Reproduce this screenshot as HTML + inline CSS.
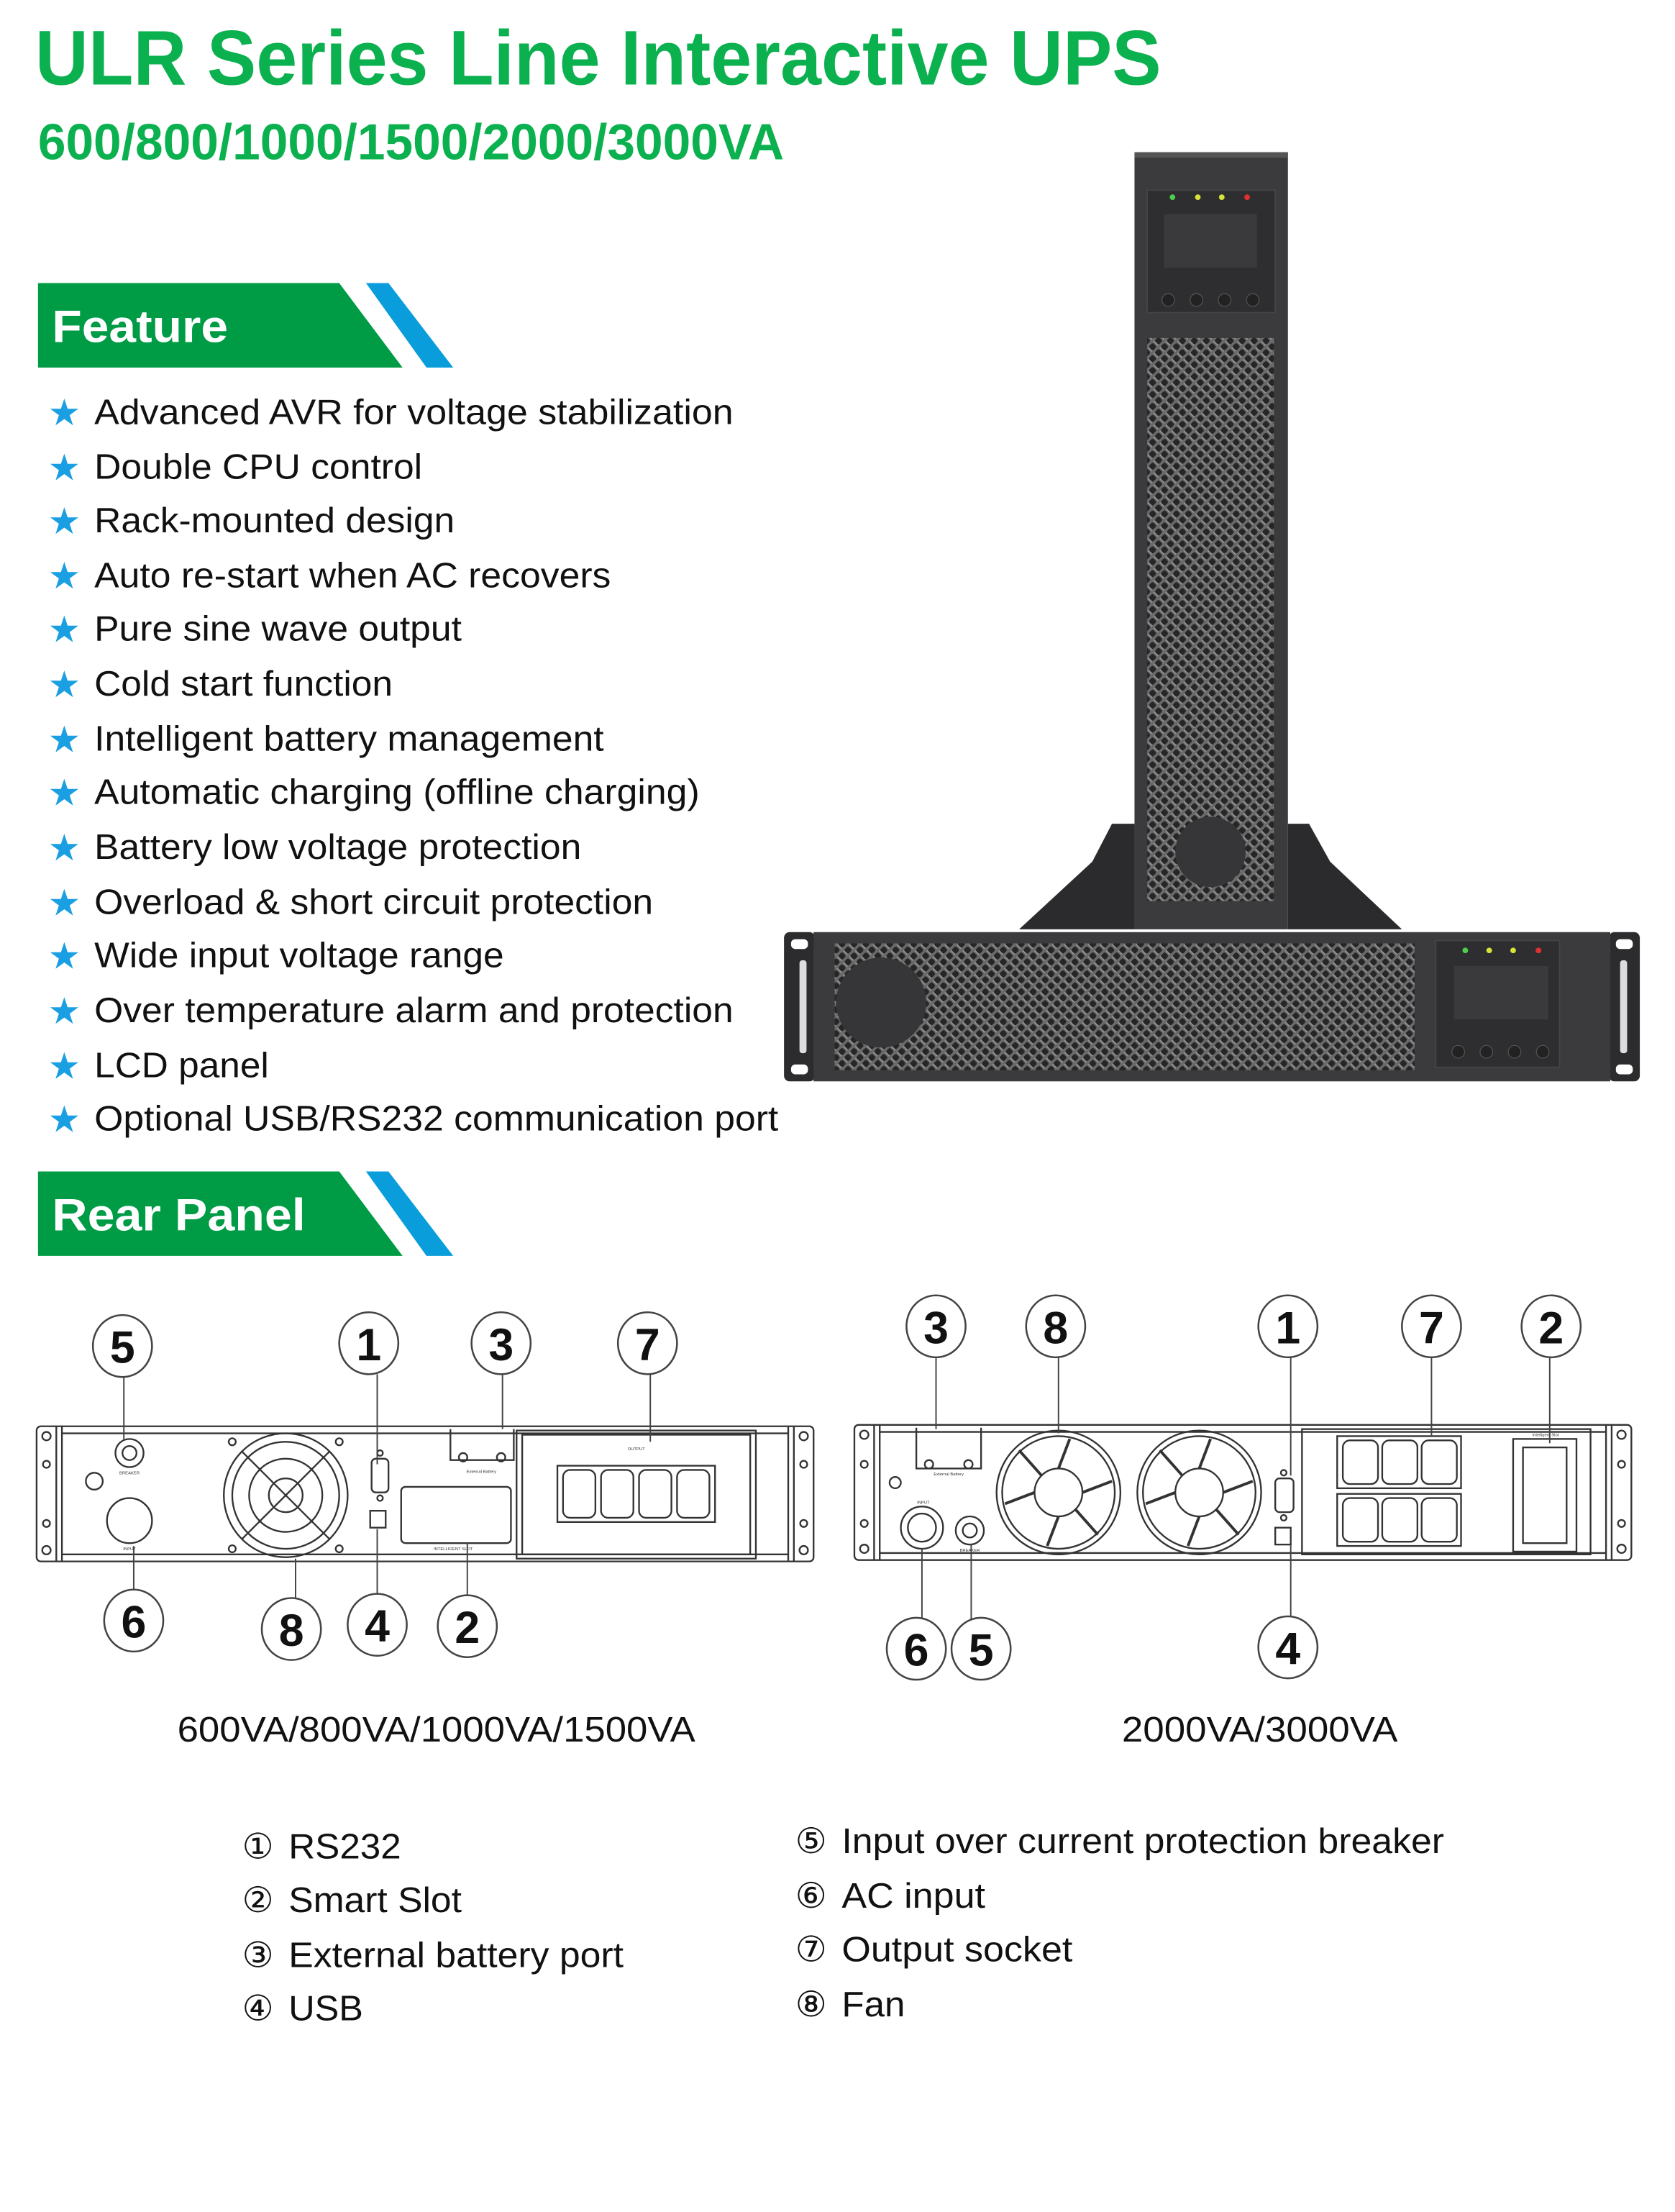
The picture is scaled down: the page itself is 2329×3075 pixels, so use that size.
<!DOCTYPE html>
<html><head><meta charset="utf-8"><style>
html,body{margin:0;padding:0;background:#fff;}
svg{display:block;}
</style></head><body>
<svg xmlns="http://www.w3.org/2000/svg" width="2329" height="3075" viewBox="0 0 1190 1571" font-family="Liberation Sans, sans-serif">
<defs>
<pattern id="grille" width="6" height="6" patternUnits="userSpaceOnUse" patternTransform="rotate(45)">
<rect width="6" height="6" fill="#6a6a6a"/>
<rect x="1" y="1" width="4.2" height="4.2" rx="1.2" fill="#262627"/>
<rect x="1" y="5.2" width="4.2" height="0.8" fill="#9a9a9a"/>
</pattern>
</defs>
<rect width="1190" height="1571" fill="#fff"/>

<!-- Title -->
<text x="25" y="60" font-size="55" font-weight="bold" fill="#0bb04f" textLength="800" lengthAdjust="spacingAndGlyphs">ULR Series Line Interactive UPS</text>
<text x="27" y="113" font-size="36" font-weight="bold" fill="#0bb04f" textLength="530" lengthAdjust="spacingAndGlyphs">600/800/1000/1500/2000/3000VA</text>

<!-- Feature banner -->
<polygon points="27,201 241,201 286,261 27,261" fill="#009b45"/>
<polygon points="260,201 276,201 322,261 303,261" fill="#0a9ddc"/>
<text x="37" y="243" font-size="32" font-weight="bold" fill="#fff" textLength="125" lengthAdjust="spacingAndGlyphs">Feature</text>

<!-- Feature list -->
<g font-size="25" fill="#111">
<g fill="#1b9fe3" font-size="26">
<text x="34" y="302">★</text><text x="34" y="341">★</text><text x="34" y="379">★</text><text x="34" y="418">★</text><text x="34" y="456">★</text><text x="34" y="495">★</text><text x="34" y="534">★</text><text x="34" y="572">★</text><text x="34" y="611">★</text><text x="34" y="650">★</text><text x="34" y="688">★</text><text x="34" y="727">★</text><text x="34" y="766">★</text><text x="34" y="804">★</text>
</g>
<text x="67" y="301" textLength="454" lengthAdjust="spacingAndGlyphs">Advanced AVR for voltage stabilization</text>
<text x="67" y="340" textLength="233" lengthAdjust="spacingAndGlyphs">Double CPU control</text>
<text x="67" y="378" textLength="256" lengthAdjust="spacingAndGlyphs">Rack-mounted design</text>
<text x="67" y="417" textLength="367" lengthAdjust="spacingAndGlyphs">Auto re-start when AC recovers</text>
<text x="67" y="455" textLength="261" lengthAdjust="spacingAndGlyphs">Pure sine wave output</text>
<text x="67" y="494" textLength="212" lengthAdjust="spacingAndGlyphs">Cold start function</text>
<text x="67" y="533" textLength="362" lengthAdjust="spacingAndGlyphs">Intelligent battery management</text>
<text x="67" y="571" textLength="430" lengthAdjust="spacingAndGlyphs">Automatic charging (offline charging)</text>
<text x="67" y="610" textLength="346" lengthAdjust="spacingAndGlyphs">Battery low voltage protection</text>
<text x="67" y="649" textLength="397" lengthAdjust="spacingAndGlyphs">Overload &amp; short circuit protection</text>
<text x="67" y="687" textLength="291" lengthAdjust="spacingAndGlyphs">Wide input voltage range</text>
<text x="67" y="726" textLength="454" lengthAdjust="spacingAndGlyphs">Over temperature alarm and protection</text>
<text x="67" y="765" textLength="124" lengthAdjust="spacingAndGlyphs">LCD panel</text>
<text x="67" y="803" textLength="486" lengthAdjust="spacingAndGlyphs">Optional USB/RS232 communication port</text>
</g>

<!-- Rear panel banner -->
<polygon points="27,832 241,832 286,892 27,892" fill="#009b45"/>
<polygon points="260,832 276,832 322,892 303,892" fill="#0a9ddc"/>
<text x="37" y="874" font-size="32" font-weight="bold" fill="#fff" textLength="180" lengthAdjust="spacingAndGlyphs">Rear Panel</text>

<!-- UPS tower -->
<polygon points="724,660 776,612 790,585 806,585 806,660" fill="#2b2b2d"/>
<polygon points="915,585 930,585 945,612 996,660 915,660" fill="#2b2b2d"/>
<rect x="806" y="108" width="109" height="552" fill="#3b3b3d"/>
<rect x="806" y="108" width="109" height="4" fill="#555"/>
<rect x="815" y="135" width="91" height="87" fill="#2e2e30" stroke="#444" stroke-width="1"/>
<rect x="827" y="152" width="66" height="38" fill="#3a3a3c"/>
<circle cx="833" cy="140" r="2" fill="#4cd04c"/><circle cx="851" cy="140" r="2" fill="#d7e33a"/><circle cx="868" cy="140" r="2" fill="#d7e33a"/><circle cx="886" cy="140" r="2" fill="#e03030"/>
<g fill="#222" stroke="#555" stroke-width="0.6"><circle cx="830" cy="213" r="4.5"/><circle cx="850" cy="213" r="4.5"/><circle cx="870" cy="213" r="4.5"/><circle cx="890" cy="213" r="4.5"/></g>
<rect x="815" y="240" width="90" height="400" fill="url(#grille)"/>
<circle cx="860" cy="605" r="25" fill="#363638"/>

<!-- UPS horizontal -->
<rect x="557" y="662" width="22" height="106" rx="4" fill="#2c2c2e"/>
<rect x="1143" y="662" width="22" height="106" rx="4" fill="#2c2c2e"/>
<rect x="562" y="667" width="12" height="7" rx="3" fill="#fff"/><rect x="562" y="756" width="12" height="7" rx="3" fill="#fff"/>
<rect x="1148" y="667" width="12" height="7" rx="3" fill="#fff"/><rect x="1148" y="756" width="12" height="7" rx="3" fill="#fff"/>
<rect x="568" y="682" width="5" height="66" rx="2" fill="#ddd"/>
<rect x="1151" y="682" width="5" height="66" rx="2" fill="#ddd"/>
<rect x="578" y="662" width="566" height="106" fill="#3b3b3d"/>
<rect x="593" y="670" width="412" height="90" fill="url(#grille)"/>
<circle cx="626" cy="712" r="32" fill="#363638"/>
<rect x="1020" y="668" width="88" height="90" fill="#2e2e30" stroke="#444" stroke-width="1"/>
<rect x="1033" y="686" width="67" height="38" fill="#3a3a3c"/>
<circle cx="1041" cy="675" r="2" fill="#4cd04c"/><circle cx="1058" cy="675" r="2" fill="#d7e33a"/><circle cx="1075" cy="675" r="2" fill="#d7e33a"/><circle cx="1093" cy="675" r="2" fill="#e03030"/>
<g fill="#222" stroke="#555" stroke-width="0.6"><circle cx="1036" cy="747" r="4.5"/><circle cx="1056" cy="747" r="4.5"/><circle cx="1076" cy="747" r="4.5"/><circle cx="1096" cy="747" r="4.5"/></g>

<!-- LEFT REAR PANEL -->
<g fill="none" stroke="#333" stroke-width="1.2">
<rect x="26" y="1013" width="552" height="96" rx="3"/>
<line x1="40" y1="1013" x2="40" y2="1109"/><line x1="564" y1="1013" x2="564" y2="1109"/>
<line x1="44" y1="1013" x2="44" y2="1109"/><line x1="560" y1="1013" x2="560" y2="1109"/>
<line x1="44" y1="1018" x2="560" y2="1018"/><line x1="44" y1="1104" x2="560" y2="1104"/>
<circle cx="33" cy="1020" r="3"/><circle cx="33" cy="1101" r="3"/><circle cx="571" cy="1020" r="3"/><circle cx="571" cy="1101" r="3"/>
<circle cx="33" cy="1040" r="2.5"/><circle cx="33" cy="1082" r="2.5"/><circle cx="571" cy="1040" r="2.5"/><circle cx="571" cy="1082" r="2.5"/>
<!-- fan -->
<circle cx="203" cy="1062" r="44"/><circle cx="203" cy="1062" r="38"/><circle cx="203" cy="1062" r="26"/><circle cx="203" cy="1062" r="12"/>
<line x1="172" y1="1031" x2="234" y2="1093"/><line x1="234" y1="1031" x2="172" y2="1093"/>
<circle cx="165" cy="1024" r="2.5"/><circle cx="241" cy="1024" r="2.5"/><circle cx="165" cy="1100" r="2.5"/><circle cx="241" cy="1100" r="2.5"/>
<!-- breaker & input -->
<circle cx="92" cy="1032" r="10"/><circle cx="92" cy="1032" r="5"/>
<circle cx="67" cy="1052" r="6"/>
<circle cx="92" cy="1080" r="16"/>
<!-- db9 usb -->
<rect x="264" y="1036" width="12" height="24" rx="3"/><circle cx="270" cy="1032" r="2"/><circle cx="270" cy="1064" r="2"/>
<rect x="263" y="1073" width="11" height="12"/>
<!-- ext battery -->
<path d="M320,1015 V1037 H365 V1015"/>
<circle cx="329" cy="1035" r="3"/><circle cx="356" cy="1035" r="3"/>
<!-- smart slot -->
<rect x="285" y="1056" width="78" height="40" rx="3"/>
<!-- output -->
<rect x="367" y="1016" width="170" height="91"/>
<rect x="371" y="1019" width="162" height="85"/>
<rect x="396" y="1041" width="112" height="40"/>
<rect x="400" y="1044" width="23" height="34" rx="5"/><rect x="427" y="1044" width="23" height="34" rx="5"/><rect x="454" y="1044" width="23" height="34" rx="5"/><rect x="481" y="1044" width="23" height="34" rx="5"/>
</g>
<g font-size="3" fill="#333" text-anchor="middle"><text x="92" y="1047">BREAKER</text><text x="92" y="1101">INPUT</text><text x="342" y="1046">External Battery</text><text x="322" y="1101">INTELLIGENT SLOT</text><text x="452" y="1030">OUTPUT</text></g>

<!-- RIGHT REAR PANEL -->
<g fill="none" stroke="#333" stroke-width="1.2">
<rect x="607" y="1012" width="552" height="96" rx="3"/>
<line x1="621" y1="1012" x2="621" y2="1108"/><line x1="1145" y1="1012" x2="1145" y2="1108"/>
<line x1="625" y1="1012" x2="625" y2="1108"/><line x1="1141" y1="1012" x2="1141" y2="1108"/>
<line x1="625" y1="1017" x2="1141" y2="1017"/><line x1="625" y1="1103" x2="1141" y2="1103"/>
<circle cx="614" cy="1019" r="3"/><circle cx="614" cy="1100" r="3"/><circle cx="1152" cy="1019" r="3"/><circle cx="1152" cy="1100" r="3"/>
<circle cx="614" cy="1040" r="2.5"/><circle cx="614" cy="1082" r="2.5"/><circle cx="1152" cy="1040" r="2.5"/><circle cx="1152" cy="1082" r="2.5"/>
<!-- fans -->
<circle cx="752" cy="1060" r="44"/><circle cx="752" cy="1060" r="40"/><circle cx="752" cy="1060" r="17"/>
<circle cx="852" cy="1060" r="44"/><circle cx="852" cy="1060" r="40"/><circle cx="852" cy="1060" r="17"/>
<g stroke-width="2">
<line x1="752" y1="1043" x2="760" y2="1022"/><line x1="769" y1="1060" x2="790" y2="1052"/><line x1="752" y1="1077" x2="744" y2="1098"/><line x1="735" y1="1060" x2="714" y2="1068"/><line x1="764" y1="1072" x2="780" y2="1090"/><line x1="740" y1="1048" x2="724" y2="1030"/>
<line x1="852" y1="1043" x2="860" y2="1022"/><line x1="869" y1="1060" x2="890" y2="1052"/><line x1="852" y1="1077" x2="844" y2="1098"/><line x1="835" y1="1060" x2="814" y2="1068"/><line x1="864" y1="1072" x2="880" y2="1090"/><line x1="840" y1="1048" x2="824" y2="1030"/>
</g>
<!-- ext battery -->
<path d="M651,1014 V1043 H697 V1014"/><circle cx="660" cy="1040" r="3"/><circle cx="688" cy="1040" r="3"/>
<circle cx="636" cy="1053" r="4"/>
<circle cx="655" cy="1085" r="15"/><circle cx="655" cy="1085" r="10"/>
<circle cx="689" cy="1087" r="10"/><circle cx="689" cy="1087" r="5"/>
<!-- db9 usb -->
<rect x="906" y="1050" width="13" height="24" rx="3"/><circle cx="912" cy="1046" r="2"/><circle cx="912" cy="1078" r="2"/>
<rect x="906" y="1085" width="11" height="12"/>
<!-- output -->
<rect x="925" y="1015" width="205" height="89"/>
<rect x="950" y="1020" width="88" height="37"/><rect x="950" y="1061" width="88" height="37"/>
<rect x="954" y="1023" width="25" height="31" rx="5"/><rect x="982" y="1023" width="25" height="31" rx="5"/><rect x="1010" y="1023" width="25" height="31" rx="5"/>
<rect x="954" y="1064" width="25" height="31" rx="5"/><rect x="982" y="1064" width="25" height="31" rx="5"/><rect x="1010" y="1064" width="25" height="31" rx="5"/>
<!-- smart slot -->
<rect x="1075" y="1022" width="45" height="80"/><rect x="1082" y="1028" width="31" height="68"/>
</g>
<g font-size="3" fill="#333" text-anchor="middle"><text x="674" y="1048">External Battery</text><text x="656" y="1068">INPUT</text><text x="689" y="1102">BREAKER</text><text x="1098" y="1020">Intelligent Slot</text></g>

<!-- leader lines -->
<g stroke="#444" stroke-width="1">
<line x1="88" y1="978" x2="88" y2="1022"/><line x1="268" y1="976" x2="268" y2="1040"/><line x1="357" y1="976" x2="357" y2="1015"/><line x1="462" y1="976" x2="462" y2="1024"/>
<line x1="95" y1="1130" x2="95" y2="1098"/><line x1="210" y1="1135" x2="210" y2="1107"/><line x1="268" y1="1132" x2="268" y2="1086"/><line x1="332" y1="1133" x2="332" y2="1096"/>
<line x1="665" y1="964" x2="665" y2="1015"/><line x1="752" y1="964" x2="752" y2="1018"/><line x1="917" y1="964" x2="917" y2="1048"/><line x1="1017" y1="964" x2="1017" y2="1020"/><line x1="1101" y1="964" x2="1101" y2="1025"/>
<line x1="655" y1="1150" x2="655" y2="1100"/><line x1="690" y1="1150" x2="690" y2="1097"/><line x1="917" y1="1148" x2="917" y2="1097"/>
</g>

<!-- callouts -->
<g fill="#fff" stroke="#444" stroke-width="1.3">
<ellipse cx="87" cy="956" rx="21" ry="22"/><ellipse cx="262" cy="954" rx="21" ry="22"/><ellipse cx="356" cy="954" rx="21" ry="22"/><ellipse cx="460" cy="954" rx="21" ry="22"/>
<ellipse cx="95" cy="1151" rx="21" ry="22"/><ellipse cx="207" cy="1157" rx="21" ry="22"/><ellipse cx="268" cy="1154" rx="21" ry="22"/><ellipse cx="332" cy="1155" rx="21" ry="22"/>
<ellipse cx="665" cy="942" rx="21" ry="22"/><ellipse cx="750" cy="942" rx="21" ry="22"/><ellipse cx="915" cy="942" rx="21" ry="22"/><ellipse cx="1017" cy="942" rx="21" ry="22"/><ellipse cx="1102" cy="942" rx="21" ry="22"/>
<ellipse cx="651" cy="1171" rx="21" ry="22"/><ellipse cx="697" cy="1171" rx="21" ry="22"/><ellipse cx="915" cy="1170" rx="21" ry="22"/>
</g>
<g font-size="32" font-weight="bold" fill="#111" text-anchor="middle">
<text x="87" y="968">5</text><text x="262" y="966">1</text><text x="356" y="966">3</text><text x="460" y="966">7</text>
<text x="95" y="1163">6</text><text x="207" y="1169">8</text><text x="268" y="1166">4</text><text x="332" y="1167">2</text>
<text x="665" y="954">3</text><text x="750" y="954">8</text><text x="915" y="954">1</text><text x="1017" y="954">7</text><text x="1102" y="954">2</text>
<text x="651" y="1183">6</text><text x="697" y="1183">5</text><text x="915" y="1182">4</text>
</g>

<!-- captions -->
<g font-size="25" fill="#111">
<text x="126" y="1237" textLength="368" lengthAdjust="spacingAndGlyphs">600VA/800VA/1000VA/1500VA</text>
<text x="797" y="1237" textLength="196" lengthAdjust="spacingAndGlyphs">2000VA/3000VA</text>
</g>

<!-- legend -->
<g font-size="25" fill="#111">
<text x="172" y="1320">①</text><text x="205" y="1320" textLength="80" lengthAdjust="spacingAndGlyphs">RS232</text>
<text x="172" y="1358">②</text><text x="205" y="1358" textLength="123" lengthAdjust="spacingAndGlyphs">Smart Slot</text>
<text x="172" y="1397">③</text><text x="205" y="1397" textLength="238" lengthAdjust="spacingAndGlyphs">External battery port</text>
<text x="172" y="1435">④</text><text x="205" y="1435" textLength="53" lengthAdjust="spacingAndGlyphs">USB</text>
<text x="565" y="1316">⑤</text><text x="598" y="1316" textLength="428" lengthAdjust="spacingAndGlyphs">Input over current protection breaker</text>
<text x="565" y="1355">⑥</text><text x="598" y="1355" textLength="102" lengthAdjust="spacingAndGlyphs">AC input</text>
<text x="565" y="1393">⑦</text><text x="598" y="1393" textLength="164" lengthAdjust="spacingAndGlyphs">Output socket</text>
<text x="565" y="1432">⑧</text><text x="598" y="1432" textLength="45" lengthAdjust="spacingAndGlyphs">Fan</text>
</g>
</svg>
</body></html>
